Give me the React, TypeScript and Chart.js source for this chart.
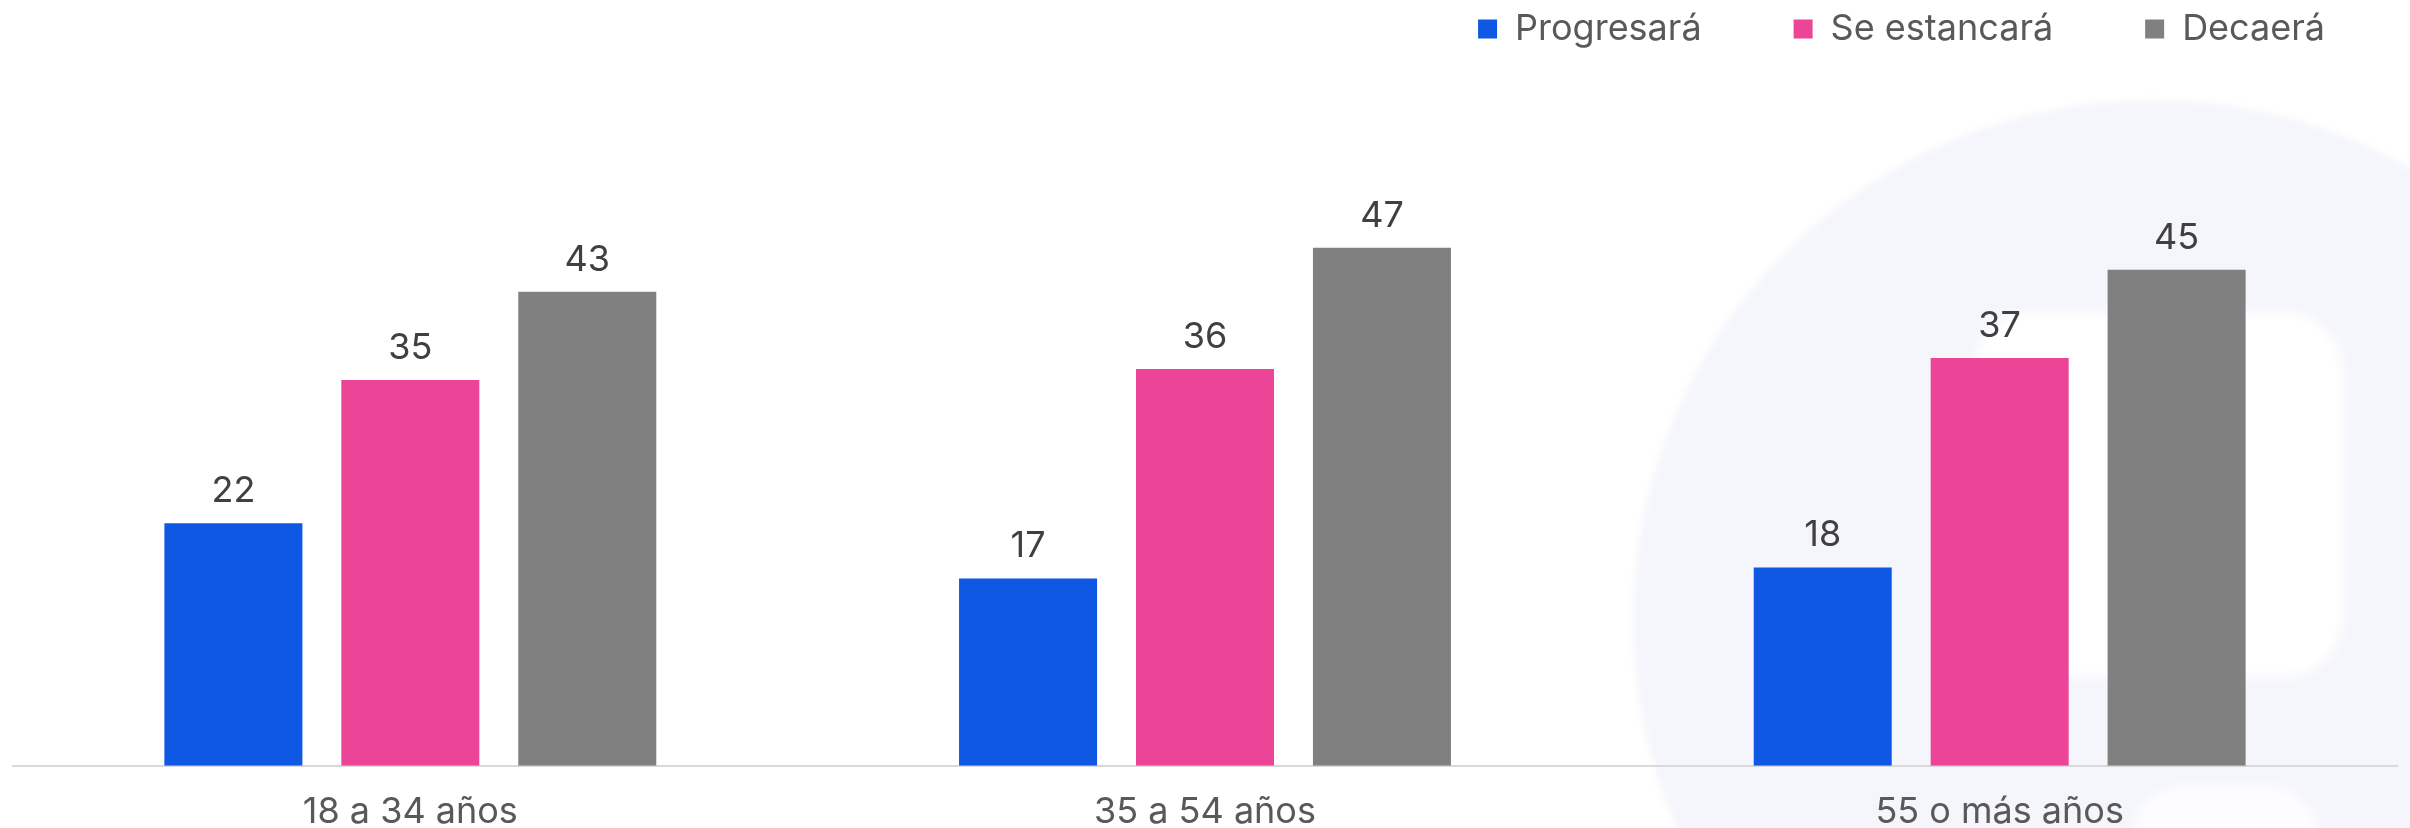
import React, { useEffect, useRef } from "react";
import { Chart, registerables } from "chart.js";

Chart.register(...registerables);

const categories = ["18 a 34 años", "35 a 54 años", "55 o más años"];
const seriesNames = ["Progresará", "Se estancará", "Decaerá"];
const progresara = [22, 17, 18];
const estancara = [35, 36, 37];
const decaera = [43, 47, 45];
const seriesColors = ["#0E58E3", "#EC4496", "#808080"];

const FONT = "Inter, 'Noto Sans', sans-serif";

const watermarkPlugin = {
  id: "watermark",
  beforeDraw(chart: any) {
    const ctx = chart.ctx;
    ctx.save();
    ctx.filter = "blur(3px)";
    ctx.fillStyle = "#F5F6FC";
    ctx.beginPath();
    ctx.arc(2153, 620, 520, 0, Math.PI * 2);
    ctx.fill();
    ctx.filter = "blur(6px)";
    ctx.fillStyle = "#FFFFFF";
    ctx.beginPath();
    (ctx as any).roundRect(1973, 312, 370, 365, 60);
    ctx.fill();
    ctx.fillStyle = "rgba(255,255,255,0.8)";
    ctx.beginPath();
    (ctx as any).roundRect(2133, 786, 185, 120, 50);
    ctx.fill();
    ctx.restore();
  },
};

const legendShiftPlugin = {
  id: "legendShift",
  afterLayout(chart: any) {
    if (chart.legend) {
      chart.legend.left += 20;
      chart.legend.right += 20;
    }
  },
};

const valueLabelPlugin = {
  id: "valueLabels",
  afterDatasetsDraw(chart: any) {
    const ctx = chart.ctx;
    ctx.save();
    ctx.font = `36px ${FONT}`;
    ctx.fillStyle = "#404040";
    ctx.textAlign = "center";
    ctx.textBaseline = "bottom";
    chart.data.datasets.forEach((ds: any, di: number) => {
      const meta = chart.getDatasetMeta(di);
      meta.data.forEach((el: any, i: number) => {
        ctx.fillText(String(ds.data[i]), el.x, el.y - 14);
      });
    });
    ctx.restore();
  },
};

export default function App() {
  const ref = useRef<HTMLCanvasElement>(null);
  useEffect(() => {
    document.body.style.margin = "0";
    const chart = new Chart(ref.current!, {
      type: "bar",
      data: {
        labels: categories,
        datasets: [progresara, estancara, decaera].map((d, i) => ({
          label: seriesNames[i],
          data: d,
          backgroundColor: seriesColors[i],
          borderWidth: 0,
          categoryPercentage: 0.668,
          barPercentage: 0.78,
        })),
      },
      options: {
        responsive: false,
        animation: false,
        layout: { padding: { left: 13, right: 13, top: -81, bottom: -31 } },
        plugins: {
          legend: {
            position: "top",
            align: "end",
            labels: {
              boxWidth: 19,
              boxHeight: 19,
              padding: 92,
              color: "#595959",
              font: { family: FONT, size: 36 },
            },
          },
          tooltip: { enabled: false },
        },
        scales: {
          x: {
            grid: { display: false, drawTicks: false },
            border: { display: true, color: "#D9D9D9", width: 2 },
            ticks: {
              color: "#595959",
              padding: 25,
              font: { family: FONT, size: 36 },
              maxRotation: 0,
            },
          },
          y: {
            display: false,
            min: 0,
            max: 64.3,
          },
        },
      },
      plugins: [watermarkPlugin, legendShiftPlugin, valueLabelPlugin],
    });
    return () => chart.destroy();
  }, []);
  return (
    <div style={{ width: 2410, height: 828 }}>
      <canvas ref={ref} width={2410} height={828} style={{ display: "block" }} />
    </div>
  );
}
